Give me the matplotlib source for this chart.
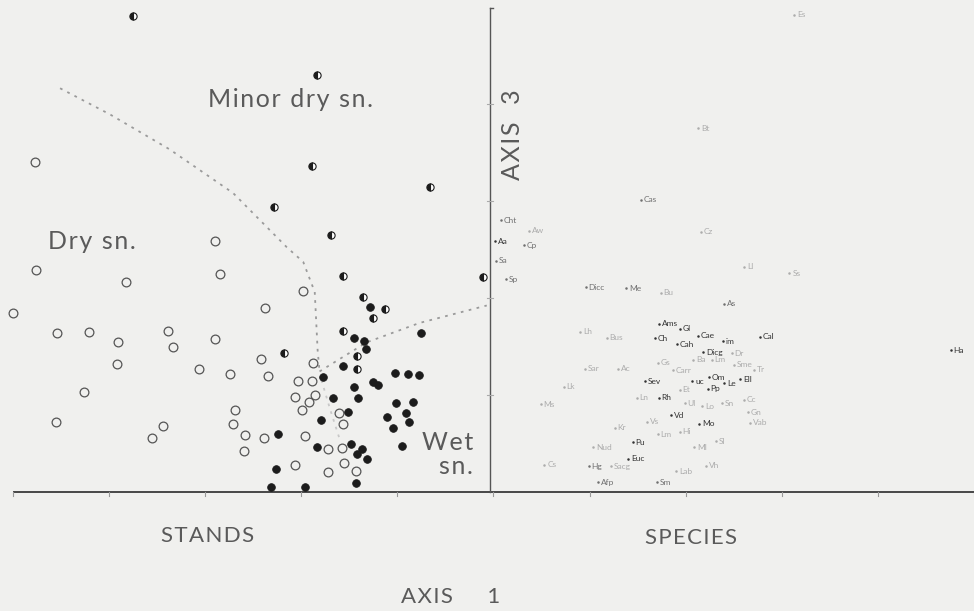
import numpy as np
from matplotlib import pyplot as plt

# stand scores (axis 1, axis 3), grouped by stand type
dry_x = [2.3, 21.0, 2.4, 11.8, 21.5, 0.0, 30.2, 26.2, 4.6, 7.9, 10.9, 16.1, 16.6, 21.0,
         10.8, 19.4, 22.6, 25.8, 26.5, 31.2, 29.7, 31.1, 29.3, 31.4, 30.8, 7.4, 4.5, 15.6,
         14.5, 23.1, 22.9, 24.1, 24.0, 26.1, 30.1, 30.4, 33.9, 34.3, 32.8, 34.2, 29.3, 32.8,
         34.4, 35.7]
dry_y = [34.0, 25.8, 22.9, 21.6, 22.4, 18.4, 20.7, 18.9, 16.4, 16.5, 15.4, 16.6, 14.9, 15.7,
         13.2, 12.7, 12.1, 13.7, 11.9, 13.3, 11.4, 11.4, 9.8, 10.0, 9.3, 10.3, 7.2, 6.8,
         5.5, 8.4, 7.0, 5.8, 4.2, 5.5, 8.4, 5.7, 8.1, 7.0, 4.4, 4.5, 2.8, 2.0,
         3.0, 2.1]

wet_x = [37.2, 42.5, 35.5, 36.5, 36.7, 34.3, 32.3, 39.7, 41.1, 42.2, 37.5, 38.0, 35.5, 33.3,
         35.9, 39.9, 41.6, 34.9, 38.9, 40.9, 41.2, 39.5, 32.0, 27.6, 31.6, 35.2, 36.3, 35.8,
         36.8, 40.5, 27.4, 26.9, 30.4, 35.7]
wet_y = [19.0, 16.4, 15.8, 15.5, 14.7, 13.0, 11.8, 12.2, 12.1, 12.0, 11.3, 11.0, 10.8, 9.7,
         9.7, 9.1, 9.2, 8.2, 7.7, 8.1, 7.2, 6.6, 7.4, 6.0, 4.6, 4.9, 4.4, 3.9,
         3.4, 4.7, 2.3, 0.5, 0.5, 0.9]

minor_x = [12.5, 31.6, 31.1, 43.4, 27.2, 33.1, 34.3, 36.4, 38.7, 37.5, 34.3, 48.9, 28.2,
           35.8, 35.8]
minor_y = [49.0, 43.0, 33.6, 31.4, 29.4, 26.5, 22.2, 20.1, 18.8, 17.9, 16.6, 22.1, 14.3,
           14.0, 12.7]

# group boundaries drawn on the stand ordination
bound1_x = [4.9, 10.1, 16.3, 22.9, 28.5, 30.2, 31.4, 31.7, 31.9]
bound1_y = [41.6, 38.9, 35.3, 30.8, 25.2, 23.7, 20.6, 14.6, 12.4]
bound2_x = [31.9, 36.8, 42.3, 49.3]
bound2_y = [12.4, 15.4, 17.4, 19.2]
bound3_x = [32.1, 33.0, 34.0]
bound3_y = [11.5, 8.5, 5.4]

# species scores (right half of axis 1)
sp_names = ["Es", "Bt", "Cas", "Cht", "Aw", "Aa", "Cp", "Sa", "Sp", "Dicc", "Me", "Bu",
            "Cz", "Ll", "Ss", "As", "Ams", "Gl", "Ch", "Cae", "im", "Cal", "Cah", "Dicg",
            "Lh", "Bus", "Dr", "Ba", "Lm", "Gs", "Sme", "Tr", "Sar", "Ac", "Carr", "Sev",
            "uc", "Om", "Le", "Ell", "Lk", "Et", "Pp", "Ln", "Rh", "Ul", "Lo", "Sn", "Cc",
            "Ms", "Vd", "Gn", "Vab", "Vs", "Mo", "Kr", "Lm", "Hi", "Pu", "Nud", "Ml", "Sl",
            "Euc", "Cs", "Hg", "Sacg", "Lab", "Vh", "Afp", "Sm", "Ha"]
sp_x = [81.3, 71.3, 65.3, 50.8, 53.7, 50.2, 53.2, 50.3, 51.3, 59.6, 63.8, 67.4,
        71.6, 76.1, 80.8, 74.0, 67.2, 69.4, 66.8, 71.3, 73.9, 77.7, 69.1, 71.8,
        59.0, 61.8, 74.8, 70.8, 72.7, 67.1, 75.0, 77.1, 59.5, 63.0, 68.7, 65.8,
        70.7, 72.4, 74.0, 75.7, 57.3, 69.4, 72.3, 64.9, 67.2, 69.9, 71.7, 73.8, 76.1,
        54.9, 68.5, 76.5, 76.7, 66.0, 71.4, 62.6, 67.1, 69.4, 64.5, 60.4, 70.9, 73.2,
        64.0, 55.3, 59.9, 62.2, 69.0, 72.1, 60.9, 67.0, 97.6]
sp_y = [49.2, 37.5, 30.1, 28.0, 26.9, 25.8, 25.4, 23.8, 21.9, 21.1, 21.0, 20.5,
        26.8, 23.2, 22.5, 19.4, 17.3, 16.8, 15.8, 16.1, 15.5, 16.0, 15.2, 14.4,
        16.5, 15.9, 14.3, 13.6, 13.6, 13.3, 13.1, 12.6, 12.7, 12.7, 12.5, 11.4,
        11.4, 11.8, 11.2, 11.6, 10.8, 10.5, 10.6, 9.7, 9.7, 9.1, 8.8, 9.1, 9.5,
        9.0, 7.9, 8.2, 7.1, 7.2, 7.0, 6.6, 5.9, 6.2, 5.1, 4.6, 4.6, 5.2,
        3.4, 2.8, 2.6, 2.6, 2.1, 2.7, 1.0, 1.0, 14.6]
# print density of each label on the scan: d dark, m medium, f faint
sp_shade = ["f", "f", "m", "m", "f", "d", "m", "m", "m", "m", "m", "f",
            "f", "f", "f", "m", "d", "d", "d", "d", "d", "d", "d", "d",
            "f", "f", "f", "f", "f", "f", "f", "f", "f", "f", "f", "d",
            "d", "d", "d", "d", "f", "f", "d", "f", "d", "f", "f", "f", "f",
            "f", "d", "f", "f", "f", "d", "f", "f", "f", "d", "f", "f", "f",
            "d", "f", "m", "f", "f", "f", "m", "m", "d"]
shades = {"d": "#333333", "m": "#707070", "f": "#acacac"}

axis1_ticks = np.arange(0, 101, 10)
axis3_ticks = [10, 20, 30, 40]

bg = "#f0f0ee"
ink = "#3a3a3a"
font = ["Lato", "DejaVu Sans"]


def spaced(s):
    # the lettering on the original is widely tracked
    return "\u200a".join(s)


fig = plt.figure(figsize=(9.74, 6.11), dpi=100, facecolor=bg)
ax = fig.add_axes([0, 0, 1, 1])
ax.set_facecolor(bg)
ax.set_xlim(-1.35, 100.0)
ax.set_ylim(-12.3, 50.7)
ax.axis("off")

# axes of the ordination
ax.plot([0, 100], [0, 0], color=ink, lw=1.3, solid_capstyle="butt")
for t in axis1_ticks:
    ax.plot([t, t], [0, -0.45], color="#999", lw=0.8)
ax.plot([49.6, 49.6], [0, 49.9], color="#555", lw=1.0)
ax.plot([49.6, 50.0], [49.9, 49.9], color="#555", lw=1.0)
for t in axis3_ticks:
    ax.plot([49.3, 49.9], [t, t], color="#aaa", lw=0.8)

# boundaries
for bx, by, c in [(bound1_x, bound1_y, "#9a9a9a"), (bound2_x, bound2_y, "#9a9a9a"),
                  (bound3_x, bound3_y, "#c8c8c8")]:
    ax.plot(bx, by, color=c, lw=1.3, linestyle=(0, (1.5, 3.0)))

# stands
ax.plot(dry_x, dry_y, "o", ms=6.3, mfc="none", mec="#555", mew=0.9)
ax.plot(wet_x, wet_y, "o", ms=5.5, mfc="#1c1c1c", mec="#1c1c1c", mew=0.6)
ax.plot(minor_x, minor_y, "o", ms=5.2, fillstyle="left", mfc="#1c1c1c",
        mfcalt="white", mec="#1c1c1c", mew=0.8)

# species
for name, x, y, s in zip(sp_names, sp_x, sp_y, sp_shade):
    ax.plot(x, y, ".", ms=1.6, color=shades[s])
    ax.annotate(name, (x, y), xytext=(2, 0), textcoords="offset points",
                fontsize=6, color=shades[s], va="center", ha="left", family=font)

# group labels
txt = dict(color="#5a5a5a", family=font, fontweight="normal")
ax.text(20.3, 40.4, spaced("Minor dry sn."), fontsize=18, va="center", ha="left", **txt)
ax.text(3.6, 25.8, spaced("Dry sn."), fontsize=18, va="center", ha="left", **txt)
ax.text(47.9, 5.1, spaced("Wet"), fontsize=18, va="center", ha="right", **txt)
ax.text(47.9, 2.6, spaced("sn."), fontsize=18, va="center", ha="right", **txt)
ax.text(52.0, 36.8, spaced("AXIS  3"), fontsize=18, va="center", ha="center",
        rotation=90, **txt)
ax.text(20.3, -4.6, spaced("STANDS"), fontsize=16, va="center", ha="center", **txt)
ax.text(70.6, -4.8, spaced("SPECIES"), fontsize=16, va="center", ha="center", **txt)
ax.text(45.5, -10.9, spaced("AXIS") + "      1", fontsize=16, va="center", ha="center",
        **txt)

plt.savefig("out.png", dpi=100, facecolor=bg)
